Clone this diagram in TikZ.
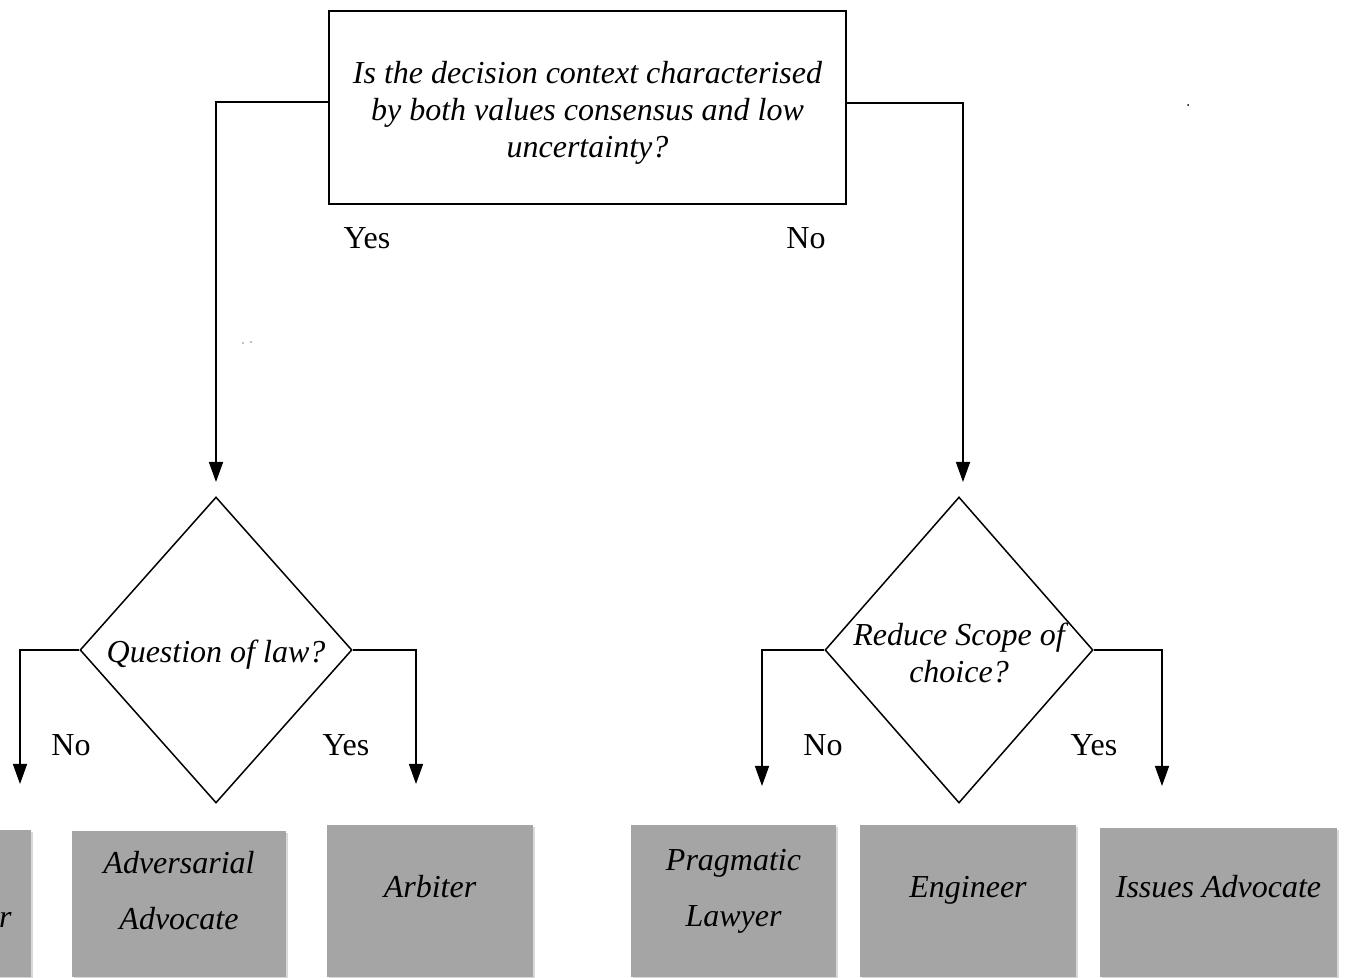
\documentclass[tikz,border=0pt]{standalone}
\usepackage{fontspec}
\setmainfont{Liberation Serif}
\usetikzlibrary{shapes.geometric,arrows.meta,shadows}
\definecolor{boxgray}{RGB}{165,165,165}
\begin{document}
\begin{tikzpicture}[x=0.5pt,y=-0.5pt,
  txt/.style={font=\fontsize{16}{18.5}\selectfont},
  itxt/.style={font=\fontsize{16}{18.5}\selectfont\itshape},
  rtxt/.style={font=\fontsize{16}{28}\selectfont\itshape, align=center},
  qbox/.style={draw, line width=1pt, inner sep=0pt},
  dia/.style={draw, diamond, line width=0.75pt, inner sep=0pt},
  arr/.style={line width=0.75pt, -{Triangle[width=7pt,length=10pt]}},
  role/.style={fill=boxgray, inner sep=0pt,
    drop shadow={shadow xshift=1.2pt, shadow yshift=-1.2pt, opacity=0.3}},
]
\useasboundingbox (0,0) rectangle (1346,978);
\clip (0,0) rectangle (1346,978);

% question box
\node[qbox, minimum width=258.5pt, minimum height=96.5pt] (top) at (587.5,107.5) {};
\node[itxt, align=center] (topt) at (587.5,112.5)
  {Is the decision context characterised\\by both values consensus and low\\uncertainty?};

% diamonds
\node[dia, minimum width=136pt, minimum height=153pt] (dl) at (216,650) {};
\node[itxt] (dlt) at (216,655) {Question of law?};
\node[dia, minimum width=134pt, minimum height=153pt] (dr) at (959,650) {};
\node[itxt, align=center] (drt) at (959,653) {Reduce Scope of\\choice?};

% arrow end points
\coordinate (aL) at (216,482);
\coordinate (aR) at (963,482);
\coordinate (aLL) at (20,784);
\coordinate (aLR) at (416,784);
\coordinate (aRL) at (762,786);
\coordinate (aRR) at (1162,786);

% connectors
\draw[arr] (top.west |- 0,102) -| (aL);
\draw[arr] (top.east |- 0,103) -| (aR);
\draw[arr] (dl.west) -| (aLL);
\draw[arr] (dl.east) -| (aLR);
\draw[arr] (dr.west) -| (aRL);
\draw[arr] (dr.east) -| (aRR);

% labels
\node[txt] (lyes) at (367,238) {Yes};
\node[txt] (lno) at (806,238) {No};
\node[txt] (lno2) at (71,745) {No};
\node[txt] (lyes2) at (346,745) {Yes};
\node[txt] (lno3) at (823,745) {No};
\node[txt] (lyes3) at (1094,745) {Yes};

% role boxes
\node[role, minimum width=105.5pt, minimum height=73.5pt] (b1) at (-74.5,903.5) {};
\node[rtxt, inner sep=0pt, anchor=base east] (b1t) at (12,928) {r};
\node[role, minimum width=107pt, minimum height=73pt] (b2) at (179,904) {};
\node[rtxt] (b2t) at (179,891) {Adversarial\\Advocate};
\node[role, minimum width=103pt, minimum height=76pt] (b3) at (430,901) {};
\node[rtxt] (b3t) at (430,887) {Arbiter};
\node[role, minimum width=102.5pt, minimum height=76pt] (b4) at (733.5,901) {};
\node[rtxt] (b4t) at (733.5,891) {Pragmatic\\Lawyer};
\node[role, minimum width=108pt, minimum height=76pt] (b5) at (968,901) {};
\node[rtxt] (b5t) at (968,890) {Engineer};
\node[role, minimum width=118.5pt, minimum height=74.5pt] (b6) at (1218.5,902.5) {};
\node[rtxt] (b6t) at (1218.5,887) {Issues Advocate};

% stray specks
\fill (1188,105) circle[radius=1];
\fill[gray] (243,343) circle[radius=0.9];
\fill[gray] (251,342) circle[radius=0.9];
\end{tikzpicture}
\end{document}
